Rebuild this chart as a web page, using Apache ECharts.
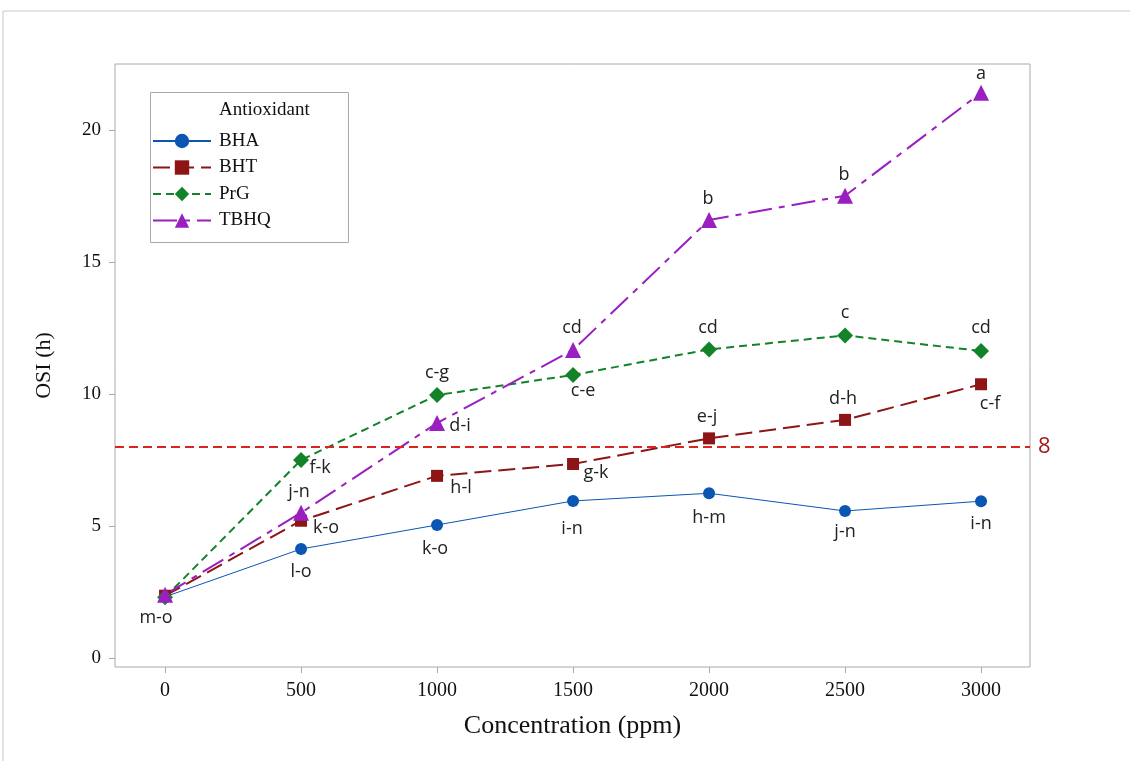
<!DOCTYPE html>
<html>
<head>
<meta charset="utf-8">
<script src="https://cdn.jsdelivr.net/npm/echarts@6/dist/echarts.min.js"></script>
<style>
  html, body { margin: 0; padding: 0; background: #fff; }
  #chart { width: 1130px; height: 761px; }
</style>
</head>
<body>
<div id="chart"></div>
<script>
// Oxidative stability index (OSI) versus antioxidant concentration
const concentrations = [0, 500, 1000, 1500, 2000, 2500, 3000];
const xTicks = [0, 500, 1000, 1500, 2000, 2500, 3000];
const yTicks = [0, 5, 10, 15, 20];

const bha  = [2.32, 4.13, 5.04, 5.95, 6.24, 5.57, 5.94];
const bht  = [2.36, 5.20, 6.90, 7.35, 8.32, 9.02, 10.37];
const prg  = [2.30, 7.50, 9.96, 10.72, 11.69, 12.22, 11.63];
const tbhq = [2.40, 5.50, 8.90, 11.67, 16.59, 17.51, 21.41];

// mean-separation letters
const bhaLetters  = ['m-o', 'l-o', 'k-o', 'i-n', 'h-m', 'j-n', 'i-n'];
const bhtLetters  = ['', 'k-o', 'h-l', 'g-k', 'e-j', 'd-h', 'c-f'];
const prgLetters  = ['', 'f-k', 'c-g', 'c-e', 'cd', 'c', 'cd'];
const tbhqLetters = ['', 'j-n', 'd-i', 'cd', 'b', 'b', 'a'];

const threshold = 8;

// label offsets (px) from each marker centre
const offsets = {
  BHA:  [[-9, 21], [0, 23], [-2, 24], [-1, 28], [0, 25], [0, 21], [0, 23]],
  BHT:  [[0, 0], [25, 7], [24, 12], [23, 9], [-2, -21], [-2, -21], [9, 20]],
  PrG:  [[0, 0], [19, 8], [0, -22], [10, 16], [-1, -22], [0, -23], [0, -23]],
  TBHQ: [[0, 0], [-2, -21], [23, 3], [-1, -22], [-1, -21], [-1, -21], [0, -19]]
};

const SERIF = '"Liberation Serif", "Times New Roman", serif';
const SANS = '"Open Sans", "Noto Sans", sans-serif';

function buildData(name, values, letters, size) {
  return values.map((v, i) => ({
    value: [concentrations[i], v],
    label: {
      show: letters[i] !== '',
      formatter: letters[i],
      position: [size / 2 + offsets[name][i][0], size / 2 + offsets[name][i][1]],
      align: 'center',
      verticalAlign: 'middle',
      fontFamily: SANS,
      fontSize: 18,
      color: '#222'
    }
  }));
}

function lineSeries(name, values, letters, color, symbol, size, width, dash) {
  return {
    name: name,
    type: 'line',
    data: buildData(name, values, letters, size),
    symbol: symbol,
    symbolSize: size,
    itemStyle: { color: color },
    lineStyle: { color: color, width: width, type: dash },
    labelLayout: { hideOverlap: false },
    emphasis: { disabled: true },
    z: 3
  };
}

const chart = echarts.init(document.getElementById('chart'));

chart.setOption({
  animation: false,
  backgroundColor: '#fff',
  grid: {
    left: 115, top: 64, width: 915, height: 603,
    show: true, borderColor: '#aaa', borderWidth: 1
  },
  xAxis: {
    type: 'value',
    min: -184, max: 3180,
    name: 'Concentration (ppm)',
    nameLocation: 'middle',
    nameGap: 46,
    nameTextStyle: { fontFamily: SERIF, fontSize: 26, color: '#111' },
    axisLine: { show: false, onZero: false },
    axisTick: { show: true, customValues: xTicks, length: 6, lineStyle: { color: '#aaa' } },
    axisLabel: {
      customValues: xTicks, margin: 14, fontFamily: SERIF, fontSize: 20, color: '#111',
      formatter: v => String(v)
    },
    splitLine: { show: false }
  },
  yAxis: {
    type: 'value',
    min: -0.34, max: 22.5,
    name: 'OSI (h)',
    nameLocation: 'middle',
    nameGap: 60,
    nameRotate: 90,
    nameTextStyle: { fontFamily: SERIF, fontSize: 22, color: '#111' },
    axisLine: { show: false, onZero: false },
    axisTick: { show: true, customValues: yTicks, length: 6, lineStyle: { color: '#aaa' } },
    axisLabel: {
      customValues: yTicks, margin: 14, fontFamily: SERIF, fontSize: 19, color: '#111',
      formatter: v => String(v)
    },
    splitLine: { show: false }
  },
  legend: {
    data: ['BHA', 'BHT', 'PrG', 'TBHQ'],
    orient: 'vertical',
    left: 152,
    top: 131,
    itemWidth: 58,
    itemHeight: 18,
    itemGap: 6.5,
    padding: 0,
    selectedMode: false,
    textStyle: { fontFamily: SERIF, fontSize: 19, color: '#111', lineHeight: 20, padding: [0, 0, 0, 3] }
  },
  graphic: [
    { type: 'line', shape: { x1: 3, y1: 11, x2: 1130, y2: 11 }, style: { stroke: '#c8c8c8', lineWidth: 1 } },
    { type: 'line', shape: { x1: 3, y1: 11, x2: 3, y2: 761 }, style: { stroke: '#c8c8c8', lineWidth: 1 } },
    { type: 'rect', shape: { x: 150.5, y: 92.5, width: 198, height: 150 }, style: { fill: '#fff', stroke: '#aaa', lineWidth: 1 }, z: 0 },
    { type: 'text', left: 219, top: 101, style: { text: 'Antioxidant', fontFamily: SERIF, fontSize: 19, fill: '#111' }, z: 10 }
  ],
  series: [
    lineSeries('BHA', bha, bhaLetters, '#0a56b2', 'circle', 12, 1, 'solid'),
    lineSeries('BHT', bht, bhtLetters, '#8e1515', 'rect', 12, 2, [17, 7]),
    lineSeries('PrG', prg, prgLetters, '#13832a', 'diamond', 16, 2, [8, 5]),
    lineSeries('TBHQ', tbhq, tbhqLetters, '#9a1fc0', 'triangle', 16, 2, [24, 7, 6, 7]),
    {
      type: 'line',
      data: [],
      silent: true,
      markLine: {
        silent: true,
        symbol: 'none',
        data: [{ yAxis: threshold }],
        lineStyle: { color: '#d9261c', width: 2, type: [9, 5] },
        label: {
          show: true,
          position: 'end',
          formatter: String(threshold),
          distance: 8,
          fontFamily: SANS,
          fontSize: 22,
          color: '#a01c1c'
        }
      }
    }
  ]
});
</script>
</body>
</html>
